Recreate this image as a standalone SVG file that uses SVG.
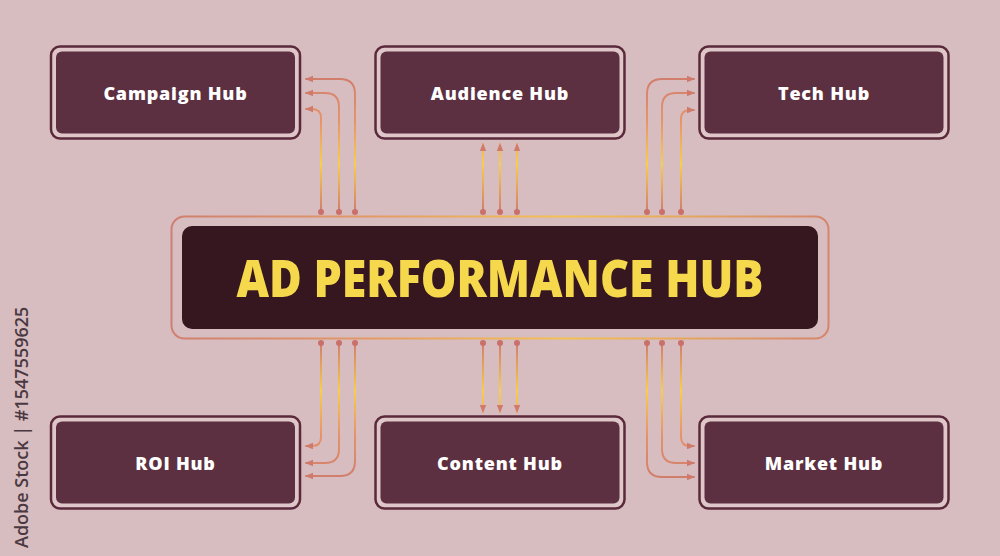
<svg xmlns="http://www.w3.org/2000/svg" width="1000" height="556" viewBox="0 0 1000 556">
  <defs>
    <style>
      .outer { fill: #dfc6c9; stroke: #5a2a3b; stroke-width: 2.5; }
      .inner { fill: #5c2f41; }
      .label { font-family: "Open Sans", "Liberation Sans", sans-serif; font-weight: 800; font-size: 18px; letter-spacing: 0.8px; fill: #ffffff; text-anchor: middle; dominant-baseline: central; }
      .title { font-family: "Open Sans", "Liberation Sans", sans-serif; font-weight: 800; font-size: 52px; fill: #f6d84c; text-anchor: middle; }
      .conn { fill: none; stroke-width: 2; stroke-linecap: round; }
      .top { stroke: url(#gTop); marker-start: url(#dot); marker-end: url(#arrow); }
      .bot { stroke: url(#gBot); marker-start: url(#dot); marker-end: url(#arrow); }
      .wm { font-family: "Open Sans", "Liberation Sans", sans-serif; font-weight: 600; font-size: 18px; fill: #4a3840; }
    </style>
    <linearGradient id="gTop" gradientUnits="userSpaceOnUse" x1="0" y1="75" x2="0" y2="212">
      <stop offset="0" stop-color="#d07c6c"/>
      <stop offset="0.35" stop-color="#e8956a"/>
      <stop offset="0.65" stop-color="#f7cf4a"/>
      <stop offset="1" stop-color="#d07c6c"/>
    </linearGradient>
    <linearGradient id="gBot" gradientUnits="userSpaceOnUse" x1="0" y1="343" x2="0" y2="480">
      <stop offset="0" stop-color="#d07c6c"/>
      <stop offset="0.35" stop-color="#f7cf4a"/>
      <stop offset="0.65" stop-color="#e8956a"/>
      <stop offset="1" stop-color="#d07c6c"/>
    </linearGradient>
    <linearGradient id="gFrame" gradientUnits="userSpaceOnUse" x1="171" y1="0" x2="829" y2="0">
      <stop offset="0" stop-color="#cf7f70"/>
      <stop offset="0.3" stop-color="#e39a66"/>
      <stop offset="0.6" stop-color="#f3c253"/>
      <stop offset="1" stop-color="#d4866c"/>
    </linearGradient>
    <marker id="arrow" markerUnits="userSpaceOnUse" markerWidth="8" markerHeight="8" viewBox="0 0 8 8" refX="7" refY="4" orient="auto">
      <path d="M0,0.8 L8,4 L0,7.2 Z" fill="#cf7a6b"/>
    </marker>
    <marker id="dot" markerUnits="userSpaceOnUse" markerWidth="8" markerHeight="8" viewBox="0 0 8 8" refX="4" refY="4" orient="auto">
      <circle cx="4" cy="4" r="3" fill="#c9706a"/>
    </marker>
  </defs>

  <rect width="1000" height="556" fill="#d7bcc0"/>

  <text class="wm" transform="translate(28,548) rotate(-90)">Adobe Stock | #1547559625</text>

  <g id="connectors">
    <!-- Campaign Hub -->
    <path class="conn top" d="M355,212 V94 Q355,79 340,79 H306"/>
    <path class="conn top" d="M339,212 V107 Q339,93 325,93 H306"/>
    <path class="conn top" d="M321,212 V118 Q321,109 312,109 H306"/>
    <!-- Audience Hub -->
    <path class="conn top" d="M483,212 V144"/>
    <path class="conn top" d="M500,212 V144"/>
    <path class="conn top" d="M517,212 V144"/>
    <!-- Tech Hub -->
    <path class="conn top" d="M647,212 V94 Q647,79 662,79 H694"/>
    <path class="conn top" d="M662,212 V107 Q662,93 676,93 H694"/>
    <path class="conn top" d="M681,212 V119 Q681,110 690,110 H694"/>
    <!-- ROI Hub -->
    <path class="conn bot" d="M321,343 V437 Q321,446 312,446 H306"/>
    <path class="conn bot" d="M339,343 V449 Q339,463 325,463 H306"/>
    <path class="conn bot" d="M355,343 V461 Q355,476 340,476 H306"/>
    <!-- Content Hub -->
    <path class="conn bot" d="M483,343 V412"/>
    <path class="conn bot" d="M500,343 V412"/>
    <path class="conn bot" d="M517,343 V412"/>
    <!-- Market Hub -->
    <path class="conn bot" d="M681,343 V437 Q681,446 690,446 H694"/>
    <path class="conn bot" d="M662,343 V449 Q662,463 676,463 H694"/>
    <path class="conn bot" d="M647,343 V462 Q647,477 662,477 H694"/>
  </g>

  <g id="center">
    <rect x="171.5" y="216.5" width="657" height="122" rx="13" fill="none" stroke="url(#gFrame)" stroke-width="2"/>
    <rect x="182" y="226" width="636" height="103" rx="10" fill="#37171f"/>
    <text class="title" x="500" y="297" textLength="527" lengthAdjust="spacingAndGlyphs">AD PERFORMANCE HUB</text>
  </g>

  <g id="campaign">
    <rect class="outer" x="51" y="46.5" width="249" height="92" rx="9"/>
    <rect class="inner" x="56" y="51.5" width="239" height="82" rx="6"/>
    <text class="label" x="175.5" y="93">Campaign Hub</text>
  </g>
  <g id="audience">
    <rect class="outer" x="375.5" y="46.5" width="249" height="92" rx="9"/>
    <rect class="inner" x="380.5" y="51.5" width="239" height="82" rx="6"/>
    <text class="label" x="500" y="93">Audience Hub</text>
  </g>
  <g id="tech">
    <rect class="outer" x="699.5" y="46.5" width="249" height="92" rx="9"/>
    <rect class="inner" x="704.5" y="51.5" width="239" height="82" rx="6"/>
    <text class="label" x="824" y="93">Tech Hub</text>
  </g>
  <g id="roi">
    <rect class="outer" x="51" y="416.5" width="249" height="92" rx="9"/>
    <rect class="inner" x="56" y="421.5" width="239" height="82" rx="6"/>
    <text class="label" x="175.5" y="463">ROI Hub</text>
  </g>
  <g id="content">
    <rect class="outer" x="375.5" y="416.5" width="249" height="92" rx="9"/>
    <rect class="inner" x="380.5" y="421.5" width="239" height="82" rx="6"/>
    <text class="label" x="500" y="463">Content Hub</text>
  </g>
  <g id="market">
    <rect class="outer" x="699.5" y="416.5" width="249" height="92" rx="9"/>
    <rect class="inner" x="704.5" y="421.5" width="239" height="82" rx="6"/>
    <text class="label" x="824" y="463">Market Hub</text>
  </g>
</svg>
